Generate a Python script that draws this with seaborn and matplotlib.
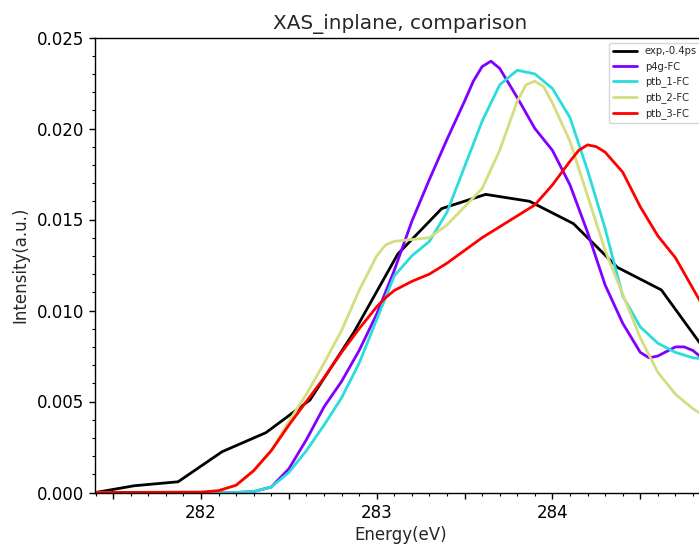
import numpy as np
import pandas as pd
import matplotlib
matplotlib.use("Agg")
import matplotlib.pyplot as plt
from matplotlib.ticker import MultipleLocator, FuncFormatter
import seaborn as sns

# ---------------- data ----------------
exp_E = [281.40, 281.62, 281.87, 282.12, 282.37, 282.62, 282.87, 283.12,
         283.37, 283.62, 283.87, 284.12, 284.37, 284.62, 284.87]
exp_I = [0.0, 0.00037, 0.00059, 0.00224, 0.00329, 0.00508, 0.0088, 0.0131,
         0.0156, 0.01638, 0.0160, 0.01477, 0.01237, 0.01113, 0.0078]

p4g_E = [281.4, 282.2, 282.3, 282.4, 282.5, 282.6, 282.7, 282.8, 282.9, 283.0,
         283.1, 283.2, 283.3, 283.4, 283.5, 283.55, 283.6, 283.65, 283.7, 283.8, 283.9,
         284.0, 284.1, 284.2, 284.3, 284.4, 284.5, 284.55, 284.6, 284.7, 284.75,
         284.8, 284.9]
p4g_I = [0.0, 0.0, 0.00005, 0.0003, 0.0013, 0.0029, 0.0047, 0.0061, 0.0078, 0.0098,
         0.0122, 0.0149, 0.0172, 0.0194, 0.0215, 0.0226, 0.0234, 0.0237, 0.0233, 0.0217, 0.0200,
         0.0188, 0.0169, 0.0143, 0.0114, 0.0093, 0.0077, 0.0074, 0.0075, 0.0080, 0.0080,
         0.0078, 0.0070]

ptb1_E = [281.4, 282.2, 282.3, 282.4, 282.5, 282.6, 282.7, 282.8, 282.9, 283.0,
          283.1, 283.2, 283.3, 283.4, 283.5, 283.6, 283.7, 283.8, 283.9, 284.0,
          284.1, 284.2, 284.3, 284.4, 284.5, 284.6, 284.7, 284.8, 284.9]
ptb1_I = [0.0, 0.0, 0.00005, 0.0003, 0.0011, 0.0023, 0.0037, 0.0052, 0.0071, 0.0095,
          0.0119, 0.0130, 0.0138, 0.0154, 0.0179, 0.0204, 0.0224, 0.0232, 0.0230, 0.0222,
          0.0206, 0.0177, 0.0145, 0.0108, 0.0091, 0.0082, 0.0077, 0.0074, 0.0073]

ptb2_E = [281.4, 282.0, 282.1, 282.2, 282.3, 282.4, 282.5, 282.6, 282.7, 282.8,
          282.9, 283.0, 283.05, 283.1, 283.2, 283.3, 283.4, 283.5, 283.6, 283.7,
          283.8, 283.85, 283.9, 283.95, 284.0, 284.1, 284.2, 284.3, 284.4, 284.5,
          284.6, 284.7, 284.8, 284.9]
ptb2_I = [0.0, 0.00002, 0.0001, 0.0004, 0.0012, 0.0023, 0.0039, 0.0054, 0.0071, 0.0089,
          0.0111, 0.0130, 0.0136, 0.0138, 0.0139, 0.0140, 0.0147, 0.0157, 0.0167, 0.0188,
          0.0215, 0.0224, 0.0226, 0.0223, 0.0214, 0.0193, 0.0163, 0.0133, 0.0109, 0.0085,
          0.0066, 0.0054, 0.0046, 0.0040]

ptb3_E = [281.4, 282.0, 282.1, 282.2, 282.3, 282.4, 282.5, 282.6, 282.7, 282.8,
          282.9, 283.0, 283.05, 283.1, 283.2, 283.3, 283.4, 283.5, 283.6, 283.7, 283.8,
          283.9, 284.0, 284.1, 284.15, 284.2, 284.25, 284.3, 284.4, 284.5, 284.6, 284.7,
          284.8, 284.9]
ptb3_I = [0.0, 0.00002, 0.0001, 0.0004, 0.0012, 0.0023, 0.0037, 0.0050, 0.0063, 0.0077,
          0.0090, 0.0102, 0.0107, 0.0111, 0.0116, 0.0120, 0.0126, 0.0133, 0.0140, 0.0146, 0.0152,
          0.0158, 0.0169, 0.0182, 0.0188, 0.0191, 0.0190, 0.0187, 0.0176, 0.0157, 0.0141, 0.0129,
          0.0112, 0.0095]

labels = ["exp,-0.4ps", "p4g-FC", "ptb_1-FC", "ptb_2-FC", "ptb_3-FC"]
x_ticklabels = ["282", "283", "284"]
y_ticklabels = ["0.000", "0.005", "0.010", "0.015", "0.020", "0.025"]

# ---------------- build long table ----------------
series = [(exp_E, exp_I), (p4g_E, p4g_I), (ptb1_E, ptb1_I), (ptb2_E, ptb2_I), (ptb3_E, ptb3_I)]
frames = []
for lab, (e, i) in zip(labels, series):
    frames.append(pd.DataFrame({"Energy": e, "Intensity": i, "series": lab}))
df = pd.concat(frames, ignore_index=True)

sns.set_theme(style="ticks")
plt.rcParams["font.family"] = ["DejaVu Sans"]
plt.rcParams["font.size"] = 12
plt.rcParams["axes.titlesize"] = 14.4

colors = ["black"] + [tuple(c) for c in plt.cm.rainbow(np.linspace(0, 1, 4))]
palette = dict(zip(labels, colors))

fig = plt.figure(figsize=(6.99, 5.45), dpi=100)
ax = fig.add_axes([95 / 699, 52.5 / 545, 611 / 699, 455 / 545])

sns.lineplot(data=df, x="Energy", y="Intensity", hue="series", hue_order=labels,
             palette=palette, estimator=None, sort=False, linewidth=2, ax=ax)

ax.set_xlim(281.397, 284.874)
ax.set_ylim(0, 0.025)
ax.xaxis.set_major_locator(MultipleLocator(0.5))
ax.xaxis.set_minor_locator(MultipleLocator(0.1))
ax.yaxis.set_major_locator(MultipleLocator(0.005))
ax.yaxis.set_minor_locator(MultipleLocator(0.001))


def xfmt(v, pos):
    s = "%d" % round(v)
    if abs(v - round(v)) < 1e-6 and s in x_ticklabels:
        return s
    return ""


def yfmt(v, pos):
    idx = int(round(v / 0.005))
    if 0 <= idx < len(y_ticklabels) and abs(v - idx * 0.005) < 1e-9:
        return y_ticklabels[idx]
    return ""


ax.xaxis.set_major_formatter(FuncFormatter(xfmt))
ax.yaxis.set_major_formatter(FuncFormatter(yfmt))
ax.tick_params(axis="both", which="major", labelsize=12, length=4.5, width=1, colors="black")
ax.tick_params(axis="both", which="minor", length=2.5, width=0.8, colors="black")
for sp in ax.spines.values():
    sp.set_visible(True)
    sp.set_color("black")
    sp.set_linewidth(1)

ax.set_xlabel("Energy(eV)", fontsize=12, labelpad=3.5)
ax.set_ylabel("Intensity(a.u.)", fontsize=12, labelpad=5)
ax.set_title("XAS_inplane, comparison", fontsize=14.4)

leg = ax.legend(loc="upper right", fontsize=7.2, handlelength=2.4, frameon=True)
leg.get_frame().set_edgecolor("#cccccc")

fig.savefig("out.png", dpi=100)
